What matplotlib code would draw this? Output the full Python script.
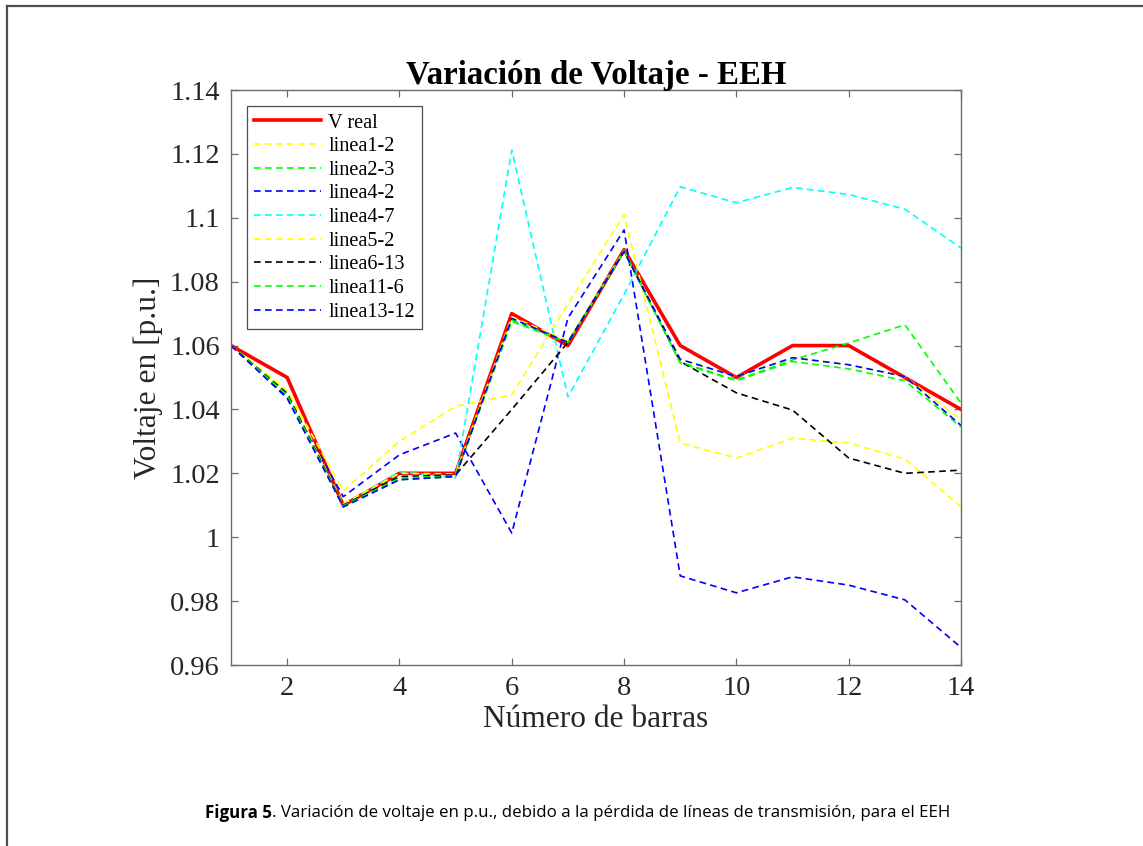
"""Variación de voltaje por pérdida de líneas - EEH."""
import numpy as np
import matplotlib
matplotlib.use("Agg")
import matplotlib.pyplot as plt
from matplotlib.lines import Line2D

# Datos
barras = np.arange(1, 15)
v_real = [1.06, 1.05, 1.01, 1.02, 1.02, 1.07, 1.06, 1.09, 1.06, 1.05, 1.06, 1.06, 1.05, 1.04]
linea1_2 = [1.06, 1.046, 1.0145, 1.030, 1.041, 1.0445, 1.073, 1.101, 1.0295, 1.0248, 1.031, 1.0295, 1.0245, 1.0095]
linea2_3 = [1.06, 1.044, 1.0095, 1.018, 1.019, 1.0675, 1.061, 1.0895, 1.0545, 1.049, 1.055, 1.0527, 1.049, 1.0345]
linea4_2 = [1.06, 1.044, 1.0127, 1.0258, 1.0326, 1.0013, 1.0686, 1.0962, 0.9879, 0.9826, 0.9876, 0.985, 0.9804, 0.9655]
linea4_7 = [1.06, 1.045, 1.010, 1.0205, 1.0186, 1.1212, 1.0439, 1.076, 1.1097, 1.1047, 1.1095, 1.1073, 1.1027, 1.0905]
linea5_2 = [1.06, 1.0455, 1.0105, 1.020, 1.0198, 1.069, 1.0615, 1.0898, 1.0557, 1.0503, 1.0562, 1.054, 1.0503, 1.0367]
linea6_13 = [1.06, 1.045, 1.010, 1.019, 1.0195, 1.040, 1.061, 1.0895, 1.055, 1.0452, 1.0398, 1.0248, 1.020, 1.021]
linea11_6 = [1.06, 1.0445, 1.0098, 1.0185, 1.0192, 1.068, 1.061, 1.0895, 1.0548, 1.0492, 1.0555, 1.0608, 1.0665, 1.042]
linea13_12 = [1.06, 1.0435, 1.0095, 1.018, 1.019, 1.0685, 1.061, 1.0895, 1.0557, 1.0503, 1.0562, 1.054, 1.0503, 1.035]

contingencias = [
    ("linea1-2", linea1_2, "#FFFF00"),
    ("linea2-3", linea2_3, "#00FF00"),
    ("linea4-2", linea4_2, "#0000FF"),
    ("linea4-7", linea4_7, "#00FFFF"),
    ("linea5-2", linea5_2, "#FFFF00"),
    ("linea6-13", linea6_13, "#000000"),
    ("linea11-6", linea11_6, "#00FF00"),
    ("linea13-12", linea13_12, "#0000FF"),
]

y_ticks = [0.96, 0.98, 1.0, 1.02, 1.04, 1.06, 1.08, 1.1, 1.12, 1.14]
x_ticks = [2, 4, 6, 8, 10, 12, 14]

plt.rcParams["font.family"] = ["Liberation Serif", "DejaVu Serif"]

W, H = 1143, 846
fig = plt.figure(figsize=(W / 100, H / 100), dpi=100)
ax = fig.add_axes([231 / W, 1 - 665 / H, (961 - 231) / W, (665 - 90) / H])

ax.plot(barras, v_real, color="#FF0000", lw=2.6, label="V real")
for nombre, valores, color in contingencias:
    ax.plot(barras, valores, color=color, lw=1.2, linestyle=(0, (4, 2.6)), label=nombre)

ax.set_xlim(1, 14)
ax.set_ylim(0.96, 1.14)
ax.set_xticks(x_ticks)
ax.set_yticks(y_ticks)
ax.set_yticklabels([f"{t:g}" for t in y_ticks])

axis_gray = "0.42"
for sp in ax.spines.values():
    sp.set_color(axis_gray)
    sp.set_linewidth(1.0)
ax.tick_params(direction="in", top=True, right=True, length=5, width=0.9,
               color=axis_gray, labelsize=20.5, pad=8, labelcolor="0.15")

ax.set_title("Variación de Voltaje - EEH", fontsize=23.7, fontweight="bold", pad=4)
ax.set_xlabel("Número de barras", fontsize=22.6, color="0.15", labelpad=3)
ax.set_ylabel("Voltaje en [p.u.]", fontsize=22.6, color="0.15", labelpad=5)

leg = ax.legend(loc="upper left", fontsize=14.6, handlelength=3.3, handletextpad=0.35,
                labelspacing=0.22, borderaxespad=0.8, borderpad=0.35,
                fancybox=False, framealpha=1.0, edgecolor="0.3")
leg.get_frame().set_linewidth(0.9)

# Pie de figura
t1 = fig.text(205 / W, 1 - 813 / H, "Figura 5", fontsize=12.2, fontweight="bold",
              family=["Open Sans", "DejaVu Sans"], va="center", ha="left")
fig.canvas.draw()
bb = t1.get_window_extent()
fig.text(bb.x1 / W, 1 - 813 / H,
         ". Variación de voltaje en p.u., debido a la pérdida de líneas de transmisión, para el EEH",
         fontsize=12.2, family=["Open Sans", "DejaVu Sans"], va="center", ha="left")

# Marco de la página
fig.add_artist(Line2D([7 / W, 1.0], [1 - 6 / H, 1 - 6 / H], transform=fig.transFigure,
                      color="0.3", lw=1.6))
fig.add_artist(Line2D([7 / W, 7 / W], [0.0, 1 - 6 / H], transform=fig.transFigure,
                      color="0.3", lw=1.6))

fig.savefig("out.png", dpi=100, facecolor="w")
